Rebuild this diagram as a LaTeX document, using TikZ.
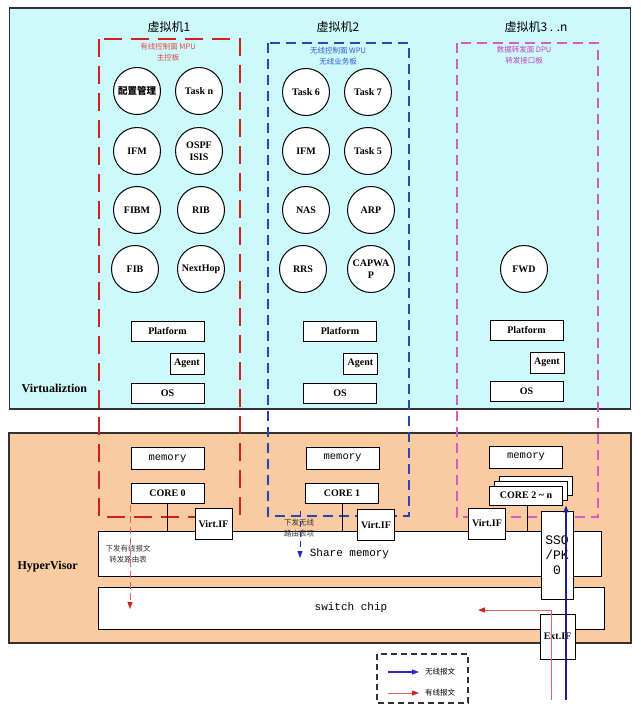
\documentclass[tikz,border=0pt]{standalone}
\usepackage{fontspec}
\setmainfont{Liberation Serif}
\newfontfamily\cjk{Noto Sans CJK SC}
\newfontfamily\mono{Liberation Mono}
\usetikzlibrary{arrows.meta}
\definecolor{cyanbg}{RGB}{204,250,250}
\definecolor{orangebg}{RGB}{250,202,160}
\definecolor{vmred}{RGB}{208,32,32}
\definecolor{vmredtxt}{RGB}{226,70,70}
\definecolor{vmblue}{RGB}{40,70,180}
\definecolor{vmbluetxt}{RGB}{50,90,210}
\definecolor{vmpink}{RGB}{214,90,200}
\definecolor{vmpinktxt}{RGB}{200,60,190}
\definecolor{navy}{RGB}{30,30,140}
\definecolor{lightred}{RGB}{228,100,100}
\definecolor{outline}{RGB}{50,50,50}
\definecolor{dashblue}{RGB}{40,40,200}
\begin{document}
\begin{tikzpicture}[x=1pt,y=-1pt,
  proc/.style={circle,draw=black,fill=white,line width=1pt,minimum size=47pt,inner sep=0pt,align=center,font=\fontsize{10}{12.5}\selectfont\bfseries},
  sbox/.style={draw=black,fill=white,line width=0.9pt,inner sep=0pt,font=\fontsize{10}{12}\selectfont\bfseries},
  wide/.style={sbox,minimum width=73pt,minimum height=20pt},
  agentbox/.style={sbox,minimum width=34pt,minimum height=21pt},
  membox/.style={sbox,minimum width=73pt,minimum height=22pt,font=\mono\fontsize{10.5}{12}\selectfont},
  vifbox/.style={sbox,minimum width=37pt,minimum height=31pt},
  bigbox/.style={draw=black,fill=white,line width=0.9pt,font=\mono\fontsize{11}{12}\selectfont},
  layerlbl/.style={anchor=west,font=\fontsize{12}{14}\selectfont\bfseries},
  vmhead/.style={font=\cjk\fontsize{12}{14}\selectfont},
  small/.style={align=center,font=\cjk\fontsize{7.5}{11}\selectfont},
  tip/.style={-{Triangle[length=7pt,width=5pt]}},
]
\useasboundingbox (0,0) rectangle (640,709);
% layers
\node[draw=outline,fill=cyanbg,line width=1.2pt,minimum width=621pt,minimum height=401pt,inner sep=0pt] (virt) at (320,208.5) {};
\node[draw=outline,fill=orangebg,line width=1.2pt,minimum width=622pt,minimum height=210pt,inner sep=0pt] (hyp) at (320,538) {};
\node[layerlbl] (vlabel) at (18,388) {Virtualiztion};
\node[layerlbl] (hlabel) at (14,567) {HyperVisor};
% VM headers
\node[vmhead] (h1) at (169,27) {虚拟机1};
\node[vmhead] (h2) at (338,27) {虚拟机2};
\node[vmhead] (h3) at (536,27) {虚拟机3 . .n};
% dashed VM frames
\draw[vmred,line width=2.6pt,dash pattern=on 18pt off 9pt] (99,39) rectangle (240,517);
\draw[vmblue,line width=1.8pt,dash pattern=on 10pt off 6pt] (268,43) rectangle (409,516);
\draw[vmpink,line width=1.6pt,dash pattern=on 10pt off 6pt] (457,43) rectangle (598,517);
\node[small,text=vmredtxt] (t1) at (168,52.5) {有线控制面 MPU\\主控板};
\node[small,text=vmbluetxt] (t2) at (338,56.5) {无线控制面 WPU\\无线业务板};
\node[small,text=vmpinktxt] (t3) at (524,55) {数据转发面 DPU\\转发接口板};
% VM1 processes
\node[proc,font=\cjk\fontsize{9.5}{12}\selectfont\bfseries] (c11) at (137,91) {配置管理};
\node[proc] (c12) at (199,91) {Task n};
\node[proc] (c13) at (137,151) {IFM};
\node[proc] (c14) at (199,151) {OSPF\\ISIS};
\node[proc] (c15) at (137,210) {FIBM};
\node[proc] (c16) at (201,210) {RIB};
\node[proc] (c17) at (135,269) {FIB};
\node[proc] (c18) at (201,269) {NextHop};
% VM2 processes
\node[proc] (c21) at (306,92) {Task 6};
\node[proc] (c22) at (368,92) {Task 7};
\node[proc] (c23) at (306,151) {IFM};
\node[proc] (c24) at (368,151) {Task 5};
\node[proc] (c25) at (306,210) {NAS};
\node[proc] (c26) at (371,210) {ARP};
\node[proc] (c27) at (303,269) {RRS};
\node[proc] (c28) at (371,269) {CAPWA\\P};
% VM3
\node[proc] (c31) at (524,269) {FWD};
% platform / agent / os
\node[wide] (p1) at (167.5,331) {Platform};
\node[agentbox] (a1) at (187,363.5) {Agent};
\node[wide] (o1) at (167.5,393) {OS};
\node[wide] (p2) at (340,331) {Platform};
\node[agentbox] (a2) at (360.5,363.5) {Agent};
\node[wide] (o2) at (340,393) {OS};
\node[wide] (p3) at (526.5,330) {Platform};
\node[agentbox] (a3) at (547,362.5) {Agent};
\node[wide] (o3) at (526.5,391.5) {OS};
% hypervisor
\node[bigbox,minimum width=503pt,minimum height=45pt,inner sep=0pt] (shm) at (349.5,553.5) {Share memory};
\node[bigbox,minimum width=506pt,minimum height=42pt,inner sep=0pt] (sw) at (351,608) {switch chip};
\node[membox] (m1) at (167.5,458.5) {memory};
\node[membox] (m2) at (342.5,458) {memory};
\node[membox] (m3) at (526,457) {memory};
\node[wide] (k0) at (167.5,493) {CORE 0};
\node[wide] (k1) at (342,493) {CORE 1};
\node[wide,minimum height=19pt] (kb2) at (536,485.5) {};
\node[wide,minimum height=19pt] (kb1) at (531,490.5) {};
\node[wide,minimum height=19pt] (kn) at (526,495.5) {CORE 2 \textasciitilde{} n};
\draw[line width=0.9pt] (k0.south) -- (k0.south |- shm.north);
\draw[line width=0.9pt] (k1.south) -- (k1.south |- shm.north);
\draw[line width=0.9pt] ([xshift=1pt]kn.south) -- ([xshift=1pt]kn.south |- shm.north);
\node[vifbox] (v1) at (213.5,524) {Virt.IF};
\node[vifbox] (v2) at (376,525) {Virt.IF};
\node[vifbox] (v3) at (487,523.5) {Virt.IF};
\node[sbox,minimum width=32pt,minimum height=88pt,align=center,font=\mono\fontsize{13}{15}\selectfont] (sso) at (557,555) {SSO\\/PK\\0};
\node[sbox,minimum width=35pt,minimum height=45pt] (ext) at (557.5,636.5) {Ext.IF};
% annotations
\node[small,text=black!80] (n1) at (128,554.5) {下发有线报文\\转发路由表};
\node[small,text=black!80] (n2) at (299,528.5) {下发无线\\路由表项};
% packet flows
\coordinate (rs) at (130,505);
\coordinate (re) at (130,609);
\draw[lightred,line width=1pt,dash pattern=on 7pt off 4pt,-{Triangle[length=7pt,width=5pt,color=vmred]}] (rs) -- (re);
\coordinate (bs) at (300,511);
\coordinate (be) at (300,558);
\draw[dashblue,line width=1pt,dash pattern=on 6pt off 4pt,-{Triangle[length=7pt,width=5pt,color=dashblue]}] (bs) -- (be);
\coordinate (wired) at (551,700);
\coordinate (wiredturn) at (551,610);
\coordinate (wiredend) at (478,610);
\draw[lightred,line width=1pt,-{Triangle[length=7pt,width=5pt,color=vmred]}] (wired) -- (wiredturn) -- (wiredend);
\coordinate (wless) at (566,700);
\draw[navy,line width=1.2pt,tip] (wless) -- (wless |- kn.south);
% legend
\draw[black!80,line width=1.2pt,dash pattern=on 6pt off 4pt] (377,654) rectangle (468,703);
\coordinate (l1a) at (388,672);
\coordinate (l1b) at (419,672);
\coordinate (l2a) at (388,693);
\coordinate (l2b) at (419,693);
\draw[dashblue,line width=1.2pt,tip] (l1a) -- (l1b);
\draw[lightred,line width=1pt,-{Triangle[length=7pt,width=5pt,color=vmred]}] (l2a) -- (l2b);
\node[anchor=west,font=\cjk\fontsize{7.5}{9}\selectfont,inner sep=0pt] (lt1) at (425,672) {无线报文};
\node[anchor=west,font=\cjk\fontsize{7.5}{9}\selectfont,inner sep=0pt] (lt2) at (425,693) {有线报文};
\end{tikzpicture}
\end{document}
